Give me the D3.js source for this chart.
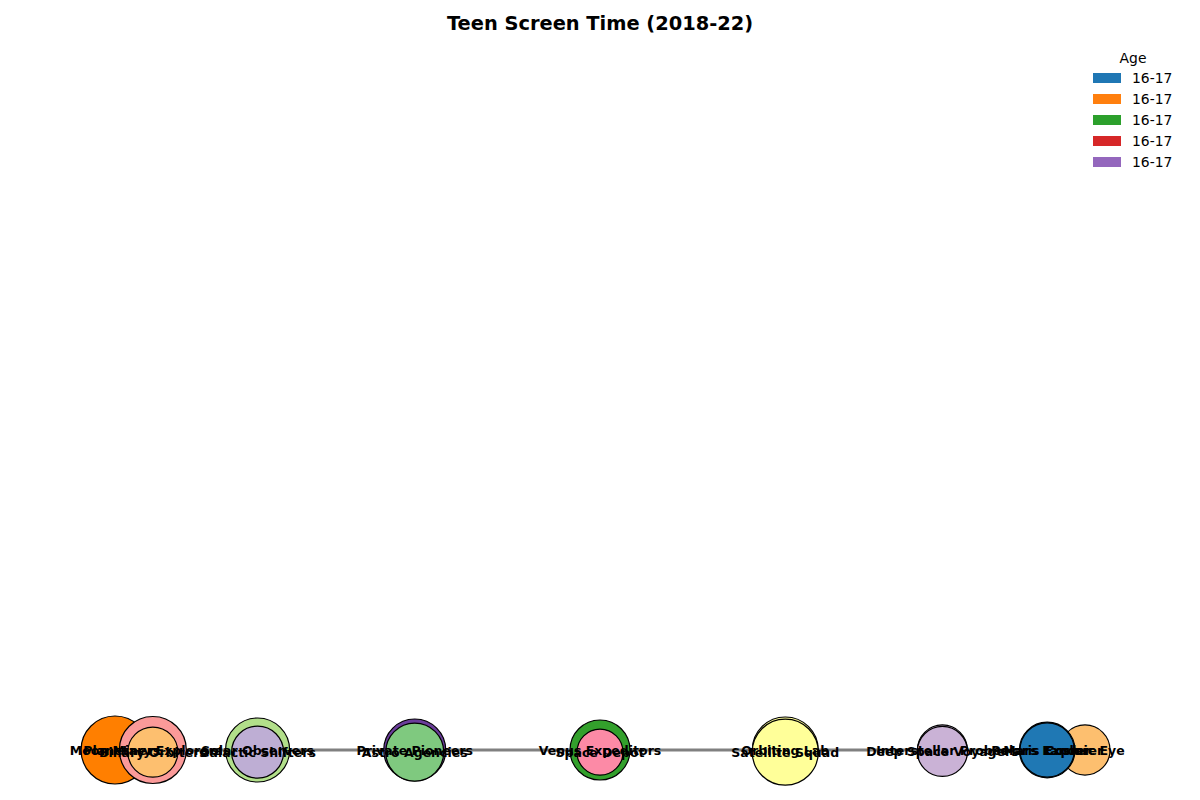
<!DOCTYPE html>
<html>
<head>
<meta charset="utf-8">
<script src="https://cdn.jsdelivr.net/npm/d3@7"></script>
<style>
  html, body { margin: 0; padding: 0; background: #fff; }
  svg { display: block; font-family: "DejaVu Sans", sans-serif; }
</style>
</head>
<body>
<svg id="chart" width="1200" height="800"></svg>
<script>
// ---- data ----
const chartTitle = "Teen Screen Time (2018-22)";
const legendTitle = "Age";
const legendLabels = ["16-17", "16-17", "16-17", "16-17", "16-17"];
const legendColors = ["#1f77b4", "#ff7f0e", "#2ca02c", "#d62728", "#9467bd"];

const nodeNames = [
  "Moon Miners", "Planetary Explorers", "Binary Orbiters",
  "Solar Observers", "Galactic Shifters",
  "Private Pioneers", "Astro Agencies",
  "Venus Expeditors", "Space Depot",
  "Orbiting Lab", "Satellite Squad",
  "Interstellar Probes", "Deep Space Voyagers",
  "Cosmic Eye", "Mars Lander", "Polaris Explorer"
];
const nodeX = [0, 0.039, 0.039, 0.147, 0.147, 0.309, 0.309, 0.5, 0.5,
               0.691, 0.691, 0.853, 0.853, 1.0, 0.961, 0.961];
const nodeY = [0, 0, -0.003, 0, -0.003, 0, -0.003, 0, -0.003,
               0, -0.003, 0, -0.002, 0, 0, 0];
const nodeSize = [1880, 1830, 1020, 1670, 1100, 1565, 1370, 1465, 860,
                  1775, 1775, 1020, 1020, 1020, 1260, 1200];
const nodeColors = ["#ff7f00", "#fb9a99", "#fdbf6f", "#b2df8a", "#beaed4",
                    "#6a3d9a", "#7fc97f", "#33a02c", "#fc8aa6",
                    "#ffff99", "#ffff99", "#cab2d6", "#cab2d6",
                    "#fdbf6f", "#1f78b4", "#1f78b4"];
const linkSources = ["Moon Miners", "Planetary Explorers", "Solar Observers", "Private Pioneers",
                     "Venus Expeditors", "Orbiting Lab", "Interstellar Probes"];
const linkTargets = ["Planetary Explorers", "Solar Observers", "Private Pioneers", "Venus Expeditors",
                     "Orbiting Lab", "Interstellar Probes", "Mars Lander"];

// ---- build ----
const nodes = nodeNames.map((n, i) => ({ name: n, x: nodeX[i], y: nodeY[i], size: nodeSize[i], color: nodeColors[i] }));
const byName = new Map(nodes.map(d => [d.name, d]));
const links = linkSources.map((s, i) => ({ source: byName.get(s), target: byName.get(linkTargets[i]) }));

const svg = d3.select("#chart");
const x = d3.scaleLinear().domain([0, 1]).range([115, 1085]);
const y = d3.scaleLinear().domain([0, 1]).range([750, 40]);
// node size in pt^2 (matplotlib-like) -> radius in px
const r = d3.scaleSqrt().domain([0, 3000]).range([0, Math.sqrt(3000 / Math.PI) * 100 / 72]);

svg.append("text")
  .attr("x", 600).attr("y", 30)
  .attr("text-anchor", "middle")
  .attr("font-size", 19.4).attr("font-weight", "bold")
  .text(chartTitle);

svg.append("g").selectAll("line").data(links).join("line")
  .attr("x1", d => x(d.source.x)).attr("y1", d => y(d.source.y))
  .attr("x2", d => x(d.target.x)).attr("y2", d => y(d.target.y))
  .attr("stroke", "#808080").attr("stroke-width", 3);

svg.append("g").selectAll("circle").data(nodes).join("circle")
  .attr("cx", d => x(d.x)).attr("cy", d => y(d.y))
  .attr("r", d => r(d.size))
  .attr("fill", d => d.color)
  .attr("stroke", "#000").attr("stroke-width", 1.2);

svg.append("g").selectAll("text").data(nodes).join("text")
  .attr("x", d => x(d.x)).attr("y", d => y(d.y))
  .attr("text-anchor", "middle").attr("dominant-baseline", "central")
  .attr("font-size", 12.5).attr("font-weight", "bold")
  .text(d => d.name);

// legend
const lg = svg.append("g");
lg.append("text").attr("x", 1133).attr("y", 58)
  .attr("text-anchor", "middle").attr("dominant-baseline", "central")
  .attr("font-size", 13.9).text(legendTitle);
const ly = d3.scaleLinear().domain([0, 1]).range([78, 99]);
legendLabels.forEach((lab, i) => {
  lg.append("rect").attr("x", 1093).attr("y", ly(i) - 5)
    .attr("width", 28).attr("height", 10).attr("fill", legendColors[i]);
  lg.append("text").attr("x", 1132).attr("y", ly(i))
    .attr("dominant-baseline", "central").attr("font-size", 13.9).text(lab);
});
</script>
</body>
</html>
